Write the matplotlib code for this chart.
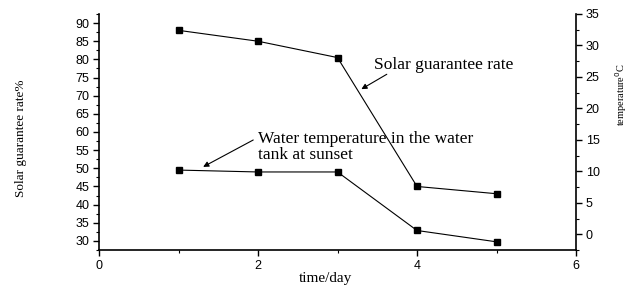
import matplotlib
matplotlib.use("Agg")
import matplotlib.pyplot as plt
from matplotlib.ticker import MultipleLocator

days = [1, 2, 3, 4, 5]
solar_rate = [88.0, 85.0, 80.5, 45.0, 43.0]
water_temp = [10.2, 9.9, 9.9, 0.6, -1.2]

left_ticks = [30, 35, 40, 45, 50, 55, 60, 65, 70, 75, 80, 85, 90]
right_ticks = [0, 5, 10, 15, 20, 25, 30, 35]
x_ticks = [0, 2, 4, 6]

serif = "Liberation Serif"
sans = "Liberation Sans"

fig = plt.figure(figsize=(6.32, 2.86), dpi=100)
ax = fig.add_axes([99/632, 36/286, (576-99)/632, (250-14)/286])
ax2 = ax.twinx()

ax.plot(days, solar_rate, color="black", lw=0.8, marker="s", ms=4.5, mfc="black", mec="black")
ax2.plot(days, water_temp, color="black", lw=0.8, marker="s", ms=4.5, mfc="black", mec="black")

ax.set_xlim(0, 6)
ax.set_ylim(27.5, 92.5)
ax2.set_ylim(-2.5, 35)

ax.set_xticks(x_ticks)
ax.xaxis.set_minor_locator(MultipleLocator(1))
ax.set_yticks(left_ticks)
ax.yaxis.set_minor_locator(MultipleLocator(2.5))
ax2.set_yticks(right_ticks)
ax2.yaxis.set_minor_locator(MultipleLocator(2.5))

for a in (ax, ax2):
    a.spines["top"].set_visible(False)
    for s in a.spines.values():
        s.set_linewidth(1.2)
ax.spines["right"].set_visible(False)
ax2.spines["left"].set_visible(False)
ax2.spines["bottom"].set_visible(False)

ax.tick_params(axis="both", which="major", direction="out", length=4, width=1.0,
               labelsize=9, pad=3)
ax.tick_params(axis="both", which="minor", direction="out", length=2.5, width=0.8)
ax2.tick_params(axis="y", which="major", direction="out", length=4, width=1.0,
                labelsize=9, pad=3)
ax2.tick_params(axis="y", which="minor", direction="out", length=2.5, width=0.8)
for lab in ax.get_xticklabels() + ax.get_yticklabels() + ax2.get_yticklabels():
    lab.set_fontfamily(sans)

ax.set_xlabel("time/day", fontfamily=serif, fontsize=11)
ax.xaxis.set_label_coords(0.475, -0.095)
ax.set_ylabel("Solar guarantee rate%", fontfamily=serif, fontsize=9.5)
ax.yaxis.set_label_coords(-0.15, 0.475)

fig.text(621/632, 1 - 95/286, "temperature$^{0}$C", rotation=90, fontfamily=serif,
         fontsize=7.5, ha="center", va="center")

# annotation texts
ax.text(3.46, 78.4, "Solar guarantee rate", fontfamily=serif, fontsize=12.5,
        ha="left", va="center")
ax.text(2.0, 56.0, "Water temperature in the water\ntank at sunset", fontfamily=serif,
        fontsize=12.5, ha="left", va="center", linespacing=1.0)

arrow = dict(arrowstyle="-|>", color="black", lw=0.8, mutation_scale=8,
             shrinkA=0, shrinkB=0)
ax.annotate("", xy=(3.30, 71.8), xytext=(3.62, 75.9), arrowprops=arrow)
ax.annotate("", xy=(1.31, 50.4), xytext=(1.94, 57.8), arrowprops=arrow)

fig.savefig("out.png", dpi=100)
